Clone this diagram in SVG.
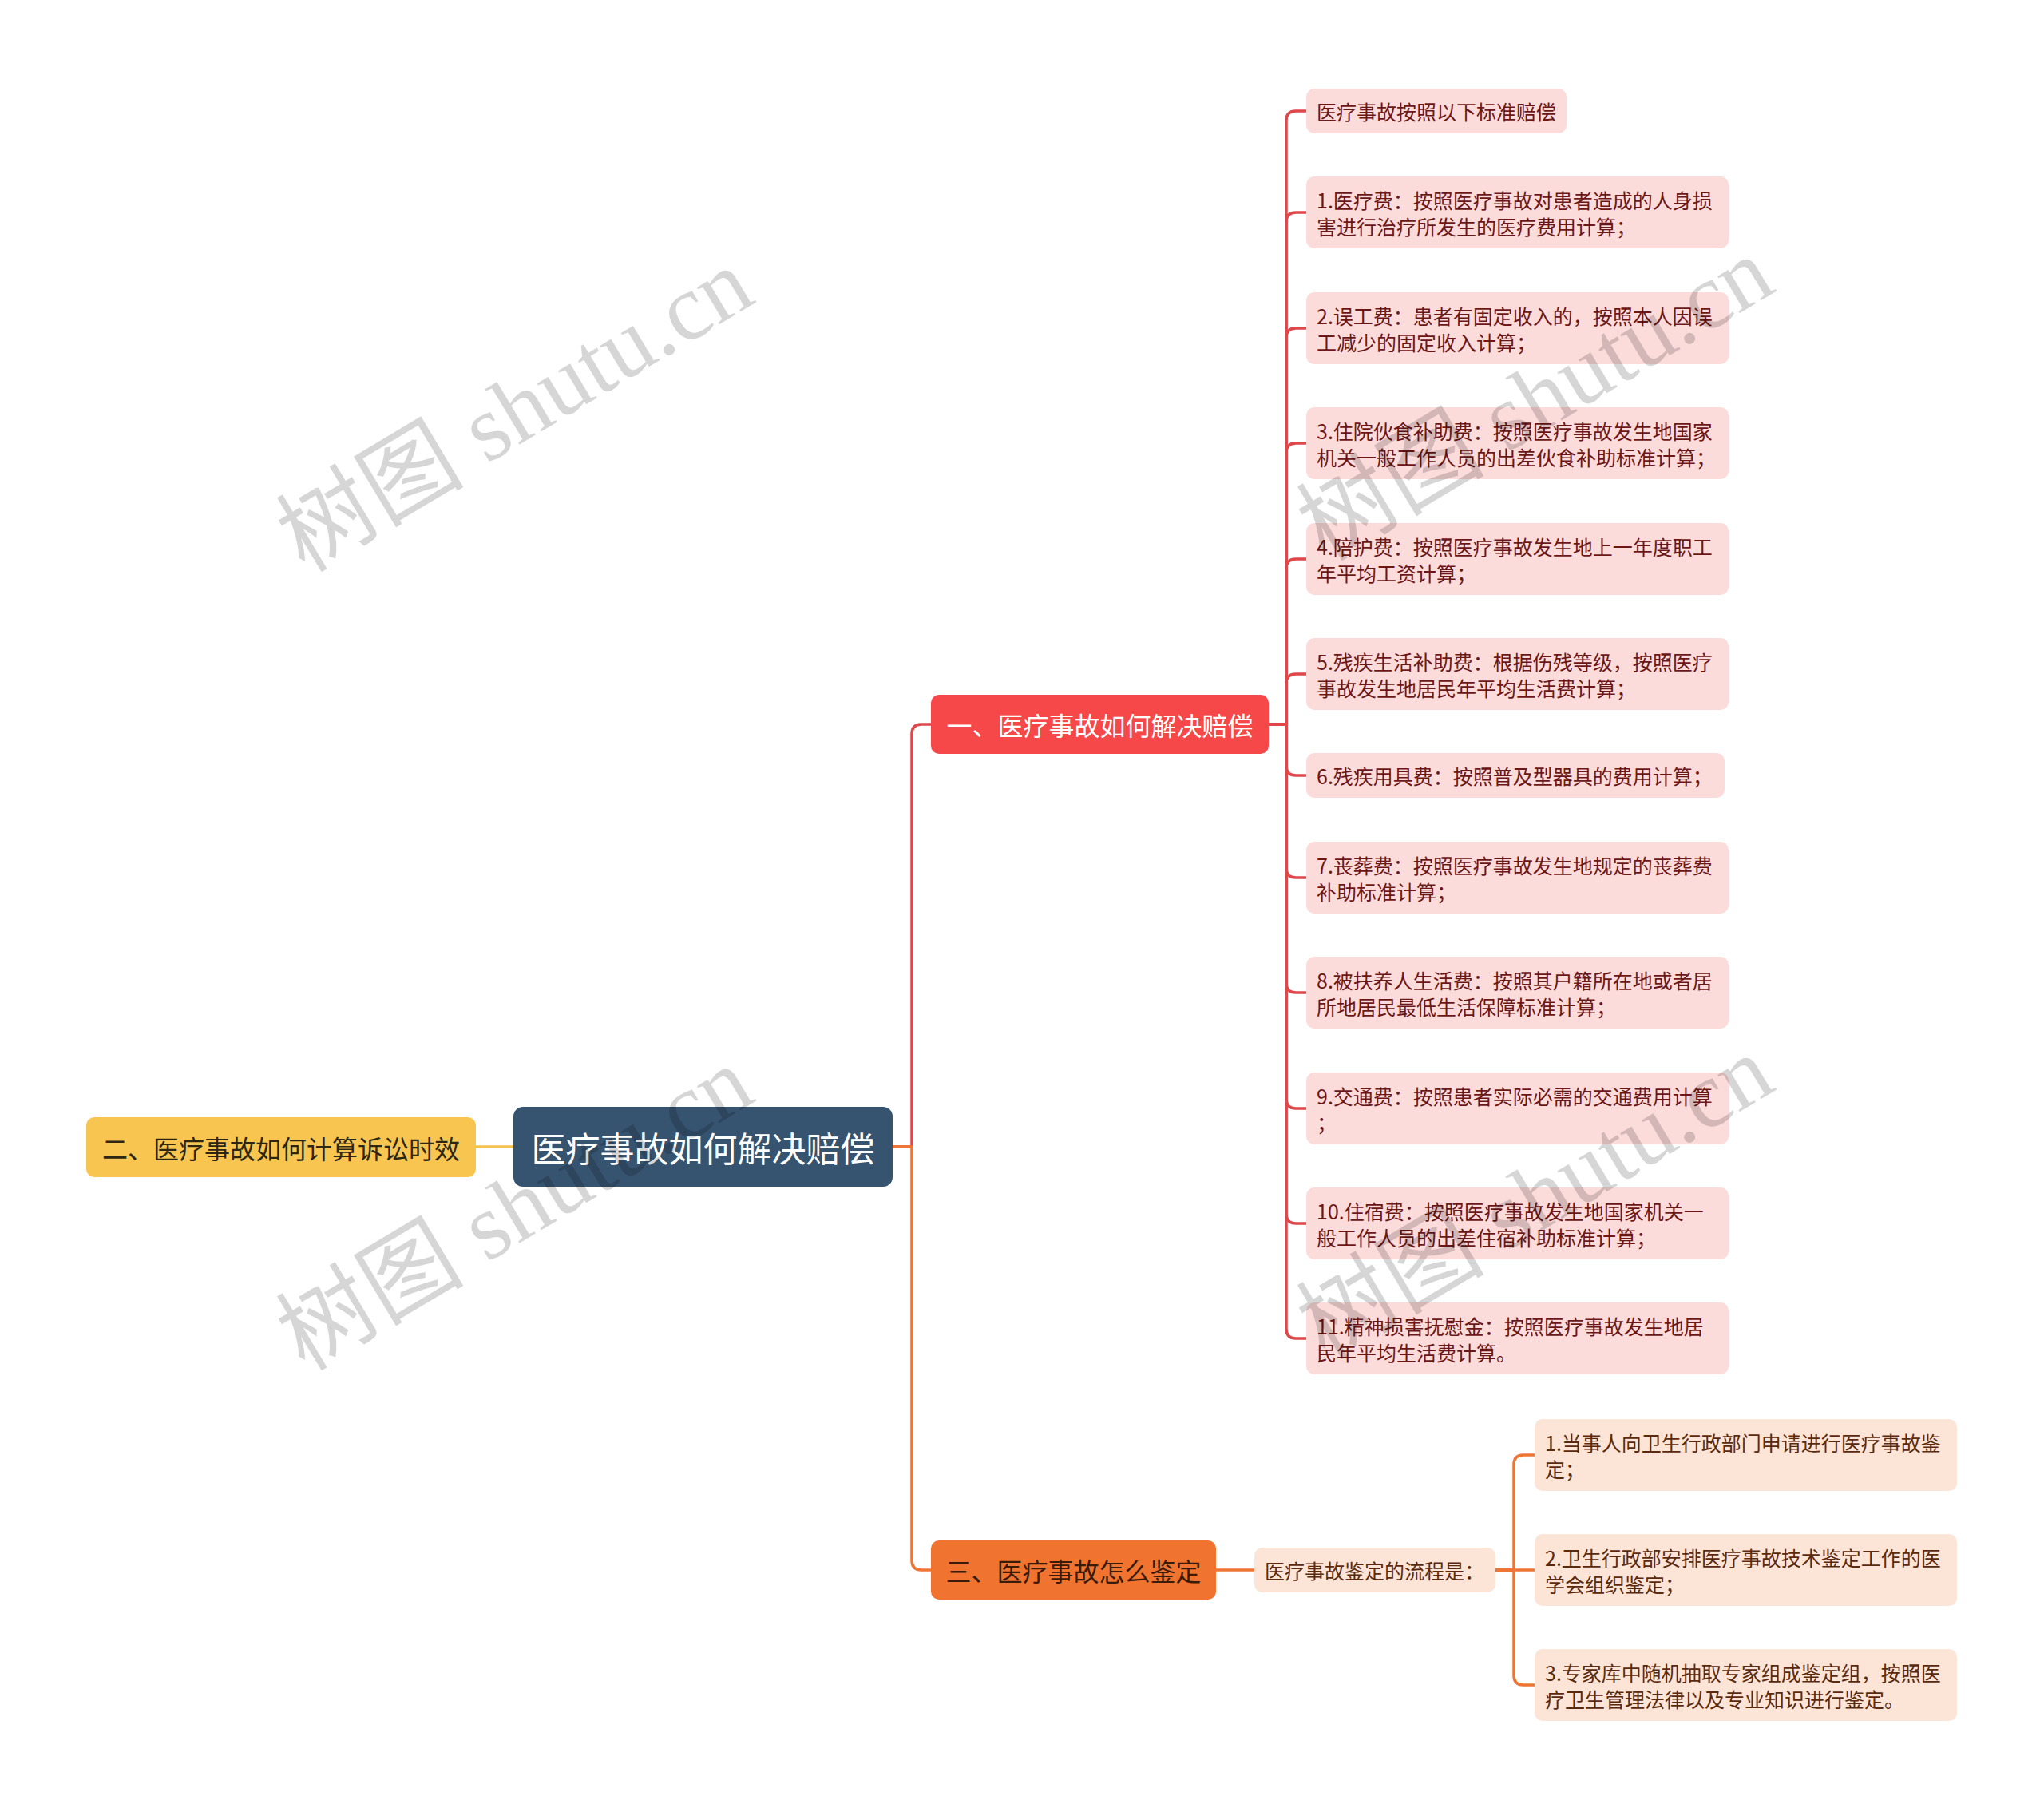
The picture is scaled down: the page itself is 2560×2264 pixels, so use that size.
<svg xmlns="http://www.w3.org/2000/svg" width="2560" height="2264" viewBox="0 0 2560 2264">
<style>
text{font-family:"Noto Sans CJK SC","Noto Sans",sans-serif;}
.c-red{fill:none;stroke:#E0474B;stroke-width:3.5;}
.c-org{fill:none;stroke:#EE7534;stroke-width:3.5;}
.c-yel{fill:none;stroke:#F5C24E;stroke-width:3.5;}
.root rect{fill:#36536F;}
.root text{fill:#fff;font-size:43px;}
.l1 text{font-size:32px;}
.red rect{fill:#F64749;}
.red text{fill:#fff;}
.org rect{fill:#F0742F;}
.org text{fill:#3a1a08;}
.yel rect{fill:#F8C650;}
.yel text{fill:#2d2613;}
.rc rect{fill:#FCDBDB;}
.rc text{fill:#6B1717;font-size:25px;}
.oc rect{fill:#FCE4D6;}
.oc text{fill:#5A2A0E;font-size:25px;}
.wm{font-family:"Liberation Serif","Noto Sans CJK SC",serif;font-size:118px;fill:#000;fill-opacity:0.16;}
</style>
<rect width="2560" height="2264" fill="#fff"/>
<g id="connectors">
<path class="c-yel" d="M596 1436 H643"/>
<path class="c-red" d="M1118 1436 H1142 V919 Q1142 907 1154 907 H1166"/>
<path class="c-org" d="M1118 1436 H1142 V1954 Q1142 1966 1154 1966 H1166"/>
<path class="c-red" d="M1589 907 H1611 V151 Q1611 139 1623 139 H1636"/>
<path class="c-red" d="M1589 907 H1611 V278 Q1611 266 1623 266 H1636"/>
<path class="c-red" d="M1589 907 H1611 V423 Q1611 411 1623 411 H1636"/>
<path class="c-red" d="M1589 907 H1611 V567 Q1611 555 1623 555 H1636"/>
<path class="c-red" d="M1589 907 H1611 V712 Q1611 700 1623 700 H1636"/>
<path class="c-red" d="M1589 907 H1611 V856 Q1611 844 1623 844 H1636"/>
<path class="c-red" d="M1589 907 H1611 V959 Q1611 971 1623 971 H1636"/>
<path class="c-red" d="M1589 907 H1611 V1087 Q1611 1099 1623 1099 H1636"/>
<path class="c-red" d="M1589 907 H1611 V1231 Q1611 1243 1623 1243 H1636"/>
<path class="c-red" d="M1589 907 H1611 V1376 Q1611 1388 1623 1388 H1636"/>
<path class="c-red" d="M1589 907 H1611 V1520 Q1611 1532 1623 1532 H1636"/>
<path class="c-red" d="M1589 907 H1611 V1664 Q1611 1676 1623 1676 H1636"/>
<path class="c-org" d="M1523 1966 H1571"/>
<path class="c-org" d="M1873 1966 H1896 V1834 Q1896 1822 1908 1822 H1922"/>
<path class="c-org" d="M1873 1966 H1922"/>
<path class="c-org" d="M1873 1966 H1896 V2098 Q1896 2110 1908 2110 H1922"/>
</g>
<g id="root" class="root">
<rect x="643" y="1386" width="475" height="100" rx="12"/>
<text x="880.5" y="1436" text-anchor="middle" dominant-baseline="central">医疗事故如何解决赔偿</text>
</g>
<g id="n-yellow" class="l1 yel">
<rect x="108" y="1399" width="488" height="75" rx="10"/>
<text x="352" y="1436.5" text-anchor="middle" dominant-baseline="central">二、医疗事故如何计算诉讼时效</text>
</g>
<g id="n-red" class="l1 red">
<rect x="1166" y="870" width="423" height="74" rx="10"/>
<text x="1377.5" y="907" text-anchor="middle" dominant-baseline="central">一、医疗事故如何解决赔偿</text>
</g>
<g id="n-orange" class="l1 org">
<rect x="1166" y="1929" width="357" height="74" rx="10"/>
<text x="1344.5" y="1966" text-anchor="middle" dominant-baseline="central">三、医疗事故怎么鉴定</text>
</g>
<g id="r0" class="rc"><rect x="1636" y="111" width="326" height="56" rx="10"/><text x="1649" y="139" dominant-baseline="central">医疗事故按照以下标准赔偿</text></g>
<g id="r1" class="rc"><rect x="1636" y="221" width="529" height="90" rx="10"/><text x="1649" y="249.5" dominant-baseline="central">1.医疗费：按照医疗事故对患者造成的人身损</text><text x="1649" y="282.5" dominant-baseline="central">害进行治疗所发生的医疗费用计算；</text></g>
<g id="r2" class="rc"><rect x="1636" y="366" width="529" height="90" rx="10"/><text x="1649" y="394.5" dominant-baseline="central">2.误工费：患者有固定收入的，按照本人因误</text><text x="1649" y="427.5" dominant-baseline="central">工减少的固定收入计算；</text></g>
<g id="r3" class="rc"><rect x="1636" y="510" width="529" height="90" rx="10"/><text x="1649" y="538.5" dominant-baseline="central">3.住院伙食补助费：按照医疗事故发生地国家</text><text x="1649" y="571.5" dominant-baseline="central">机关一般工作人员的出差伙食补助标准计算；</text></g>
<g id="r4" class="rc"><rect x="1636" y="655" width="529" height="90" rx="10"/><text x="1649" y="683.5" dominant-baseline="central">4.陪护费：按照医疗事故发生地上一年度职工</text><text x="1649" y="716.5" dominant-baseline="central">年平均工资计算；</text></g>
<g id="r5" class="rc"><rect x="1636" y="799" width="529" height="90" rx="10"/><text x="1649" y="827.5" dominant-baseline="central">5.残疾生活补助费：根据伤残等级，按照医疗</text><text x="1649" y="860.5" dominant-baseline="central">事故发生地居民年平均生活费计算；</text></g>
<g id="r6" class="rc"><rect x="1636" y="943" width="524" height="56" rx="10"/><text x="1649" y="971" dominant-baseline="central">6.残疾用具费：按照普及型器具的费用计算；</text></g>
<g id="r7" class="rc"><rect x="1636" y="1054" width="529" height="90" rx="10"/><text x="1649" y="1082.5" dominant-baseline="central">7.丧葬费：按照医疗事故发生地规定的丧葬费</text><text x="1649" y="1115.5" dominant-baseline="central">补助标准计算；</text></g>
<g id="r8" class="rc"><rect x="1636" y="1198" width="529" height="90" rx="10"/><text x="1649" y="1226.5" dominant-baseline="central">8.被扶养人生活费：按照其户籍所在地或者居</text><text x="1649" y="1259.5" dominant-baseline="central">所地居民最低生活保障标准计算；</text></g>
<g id="r9" class="rc"><rect x="1636" y="1343" width="529" height="90" rx="10"/><text x="1649" y="1371.5" dominant-baseline="central">9.交通费：按照患者实际必需的交通费用计算</text><text x="1649" y="1404.5" dominant-baseline="central">；</text></g>
<g id="r10" class="rc"><rect x="1636" y="1487" width="529" height="90" rx="10"/><text x="1649" y="1515.5" dominant-baseline="central">10.住宿费：按照医疗事故发生地国家机关一</text><text x="1649" y="1548.5" dominant-baseline="central">般工作人员的出差住宿补助标准计算；</text></g>
<g id="r11" class="rc"><rect x="1636" y="1631" width="529" height="90" rx="10"/><text x="1649" y="1659.5" dominant-baseline="central">11.精神损害抚慰金：按照医疗事故发生地居</text><text x="1649" y="1692.5" dominant-baseline="central">民年平均生活费计算。</text></g>
<g id="o0" class="oc"><rect x="1571" y="1938" width="302" height="56" rx="10"/><text x="1584" y="1966" dominant-baseline="central">医疗事故鉴定的流程是：</text></g>
<g id="o1" class="oc"><rect x="1922" y="1777" width="529" height="90" rx="10"/><text x="1935" y="1805.5" dominant-baseline="central">1.当事人向卫生行政部门申请进行医疗事故鉴</text><text x="1935" y="1838.5" dominant-baseline="central">定；</text></g>
<g id="o2" class="oc"><rect x="1922" y="1921" width="529" height="90" rx="10"/><text x="1935" y="1949.5" dominant-baseline="central">2.卫生行政部安排医疗事故技术鉴定工作的医</text><text x="1935" y="1982.5" dominant-baseline="central">学会组织鉴定；</text></g>
<g id="o3" class="oc"><rect x="1922" y="2065" width="529" height="90" rx="10"/><text x="1935" y="2093.5" dominant-baseline="central">3.专家库中随机抽取专家组成鉴定组，按照医</text><text x="1935" y="2126.5" dominant-baseline="central">疗卫生管理法律以及专业知识进行鉴定。</text></g>
<g id="watermarks">
<text class="wm" x="645" y="514" text-anchor="middle" dominant-baseline="central" transform="rotate(-31 645 514)">树图 shutu.cn</text>
<text class="wm" x="645" y="1514" text-anchor="middle" dominant-baseline="central" transform="rotate(-31 645 1514)">树图 shutu.cn</text>
<text class="wm" x="1923" y="500" text-anchor="middle" dominant-baseline="central" transform="rotate(-31 1923 500)">树图 shutu.cn</text>
<text class="wm" x="1923" y="1500" text-anchor="middle" dominant-baseline="central" transform="rotate(-31 1923 1500)">树图 shutu.cn</text>
</g>
</svg>
